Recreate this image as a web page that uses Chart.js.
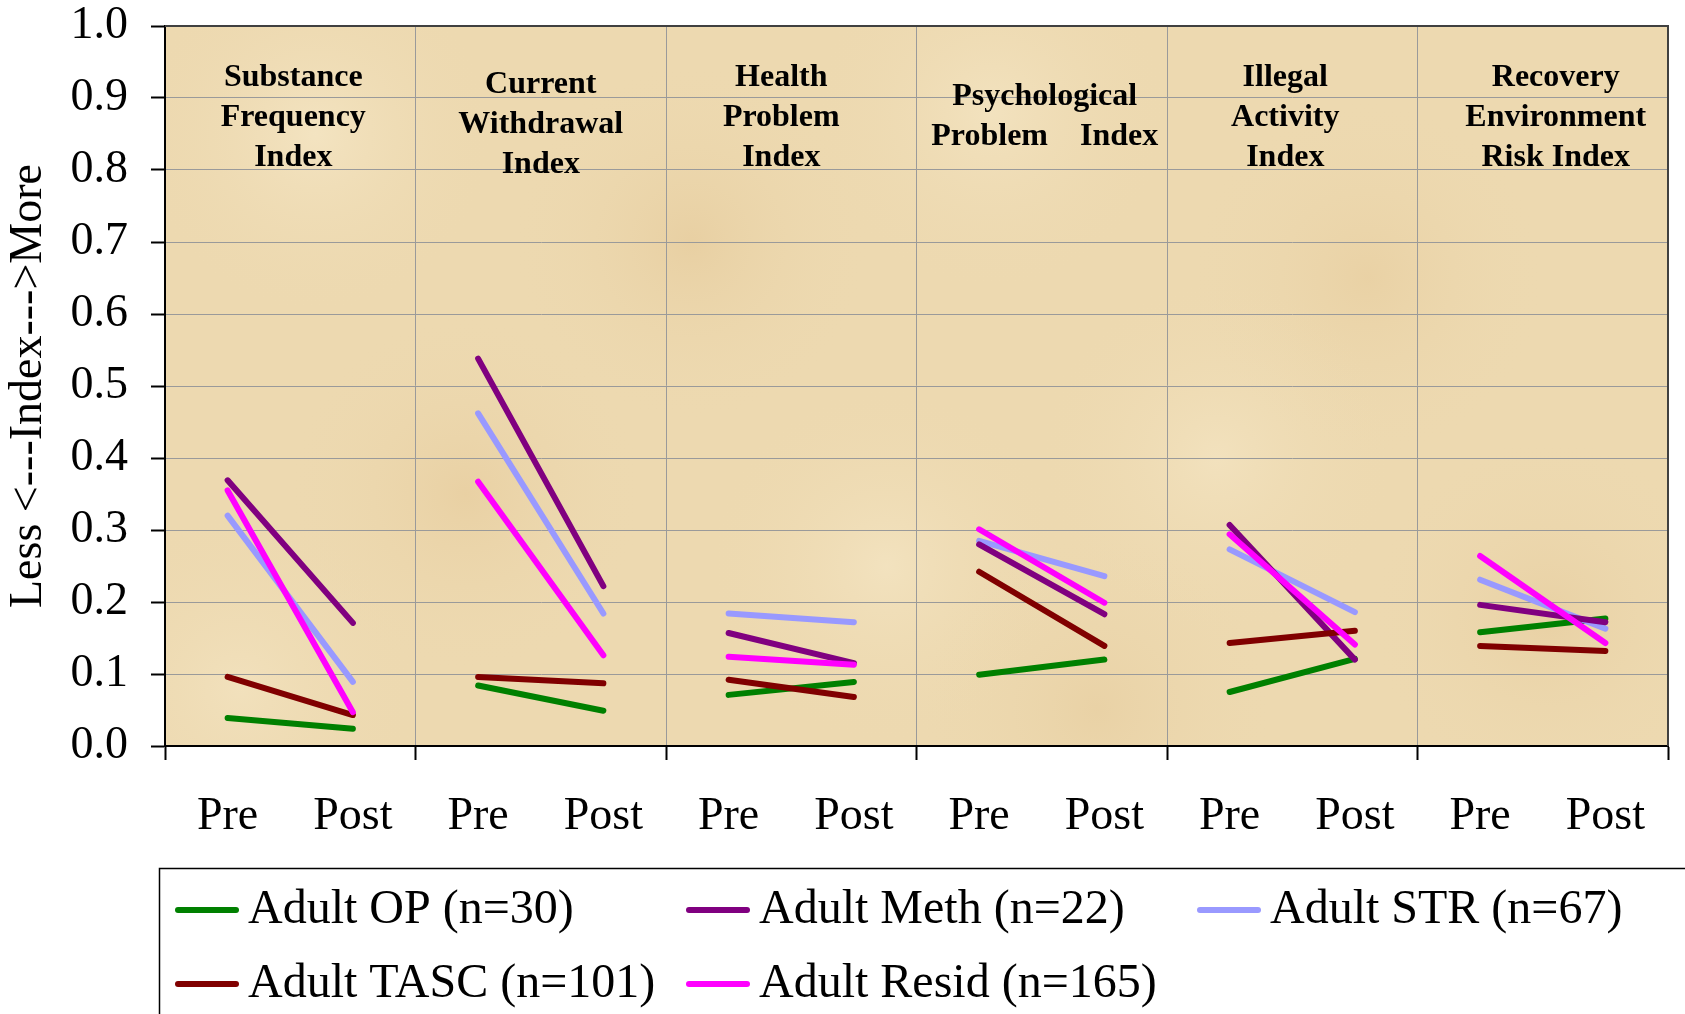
<!DOCTYPE html>
<html>
<head>
<meta charset="utf-8">
<script src="https://cdn.jsdelivr.net/npm/chart.js@4.4.1/dist/chart.umd.min.js"></script>
<style>
html,body{margin:0;padding:0;background:#fff;}
#caixa{width:1685px;height:1014px;position:relative;}
</style>
</head>
<body>
<div id="caixa"><canvas id="grafIndices"></canvas></div>
<script>
(function(){

// DADOS
const momentos = ["Pre","Post","Pre","Post","Pre","Post","Pre","Post","Pre","Post","Pre","Post"];
const titulosIndices = [
  ["Substance","Frequency","Index"],
  ["Current","Withdrawal","Index"],
  ["Health","Problem","Index"],
  ["Psychological","Problem    Index"],
  ["Illegal","Activity","Index"],
  ["Recovery","Environment","Risk Index"]
];
const adultOP    = [0.039,0.024, 0.084,0.049, 0.071,0.089, 0.099,0.120, 0.075,0.121, 0.158,0.177];
const adultMeth  = [0.369,0.171, 0.538,0.222, 0.157,0.115, 0.280,0.183, 0.307,0.120, 0.196,0.172];
const adultSTR   = [0.320,0.089, 0.462,0.184, 0.184,0.172, 0.285,0.236, 0.273,0.186, 0.231,0.163];
const adultTASC  = [0.096,0.043, 0.096,0.087, 0.092,0.068, 0.242,0.139, 0.143,0.160, 0.139,0.132];
const adultResid = [0.355,0.047, 0.367,0.126, 0.124,0.113, 0.301,0.199, 0.294,0.141, 0.264,0.143];
const rotulosSeries = ["Adult OP (n=30)","Adult Meth (n=22)","Adult STR (n=67)","Adult TASC (n=101)","Adult Resid (n=165)"];

const FONTE = "'Liberation Serif','Times New Roman',serif";
const cores = ["#008000","#800080","#9999FF","#800000","#FF00FF"];

function serie(i, valores, ordem){
  return {
    label: rotulosSeries[i],
    data: valores,
    borderColor: cores[i],
    backgroundColor: cores[i],
    borderWidth: 6,
    borderCapStyle: "round",
    borderJoinStyle: "round",
    pointRadius: 0,
    tension: 0,
    fill: false,
    order: ordem,
    // esconde a ligacao Post -> Pre do indice seguinte
    segment: { borderColor: ctx => ctx.p0DataIndex % 2 === 1 ? "transparent" : undefined }
  };
}

// fundo tipo pergaminho
const fundo = {
  id: "fundo",
  beforeDraw(chart){
    const {ctx, chartArea:a} = chart;
    ctx.save();
    ctx.fillStyle = "#EDD9B0";
    ctx.fillRect(a.left, a.top, a.right-a.left, a.bottom-a.top);
    ctx.beginPath();
    ctx.rect(a.left, a.top, a.right-a.left, a.bottom-a.top);
    ctx.clip();
    const manchas = [
      [0.10,0.15,"rgba(246,232,200,0.7)"],[0.35,0.30,"rgba(226,196,146,0.45)"],
      [0.55,0.12,"rgba(246,232,200,0.6)"],[0.80,0.35,"rgba(228,198,148,0.4)"],
      [0.20,0.65,"rgba(228,198,148,0.45)"],[0.48,0.75,"rgba(246,232,200,0.6)"],
      [0.70,0.60,"rgba(246,232,200,0.55)"],[0.92,0.82,"rgba(226,196,146,0.4)"],
      [0.05,0.92,"rgba(246,232,200,0.5)"],[0.62,0.95,"rgba(226,196,146,0.35)"]
    ];
    const w = a.right-a.left, h = a.bottom-a.top;
    manchas.forEach(m=>{
      const x = a.left+m[0]*w, y = a.top+m[1]*h, r = 180;
      const g = ctx.createRadialGradient(x,y,0,x,y,r);
      g.addColorStop(0,m[2]);
      g.addColorStop(1,"rgba(237,217,176,0)");
      ctx.fillStyle = g;
      ctx.fillRect(x-r,y-r,2*r,2*r);
    });
    ctx.restore();
  }
};

// titulos dos indices, borda e legenda
const extras = {
  id: "extras",
  afterDatasetsDraw(chart){
    const {ctx, chartArea:a, scales} = chart;
    const topo = [52,59,52,71,52,52];
    const desloc = [3,0,-10,3,-7,13];
    ctx.save();
    ctx.fillStyle = "#000";
    ctx.font = "bold 32px " + FONTE;
    ctx.textAlign = "center";
    ctx.textBaseline = "middle";
    titulosIndices.forEach((linhas,g)=>{
      const x = (scales.x.getPixelForValue(2*g) + scales.x.getPixelForValue(2*g+1))/2 + desloc[g];
      linhas.forEach((t,k)=> ctx.fillText(t, x, a.top + topo[g] + k*40));
    });
    // borda superior e direita
    ctx.strokeStyle = "#404040";
    ctx.lineWidth = 2;
    ctx.beginPath();
    ctx.moveTo(a.left, a.top);
    ctx.lineTo(a.right, a.top);
    ctx.lineTo(a.right, a.bottom);
    ctx.stroke();
    ctx.restore();
  },
  afterDraw(chart){
    const ctx = chart.ctx;
    ctx.save();
    ctx.strokeStyle = "#000";
    ctx.lineWidth = 1.5;
    ctx.strokeRect(159.5, 868.5, 1600, 300);
    ctx.font = "48px " + FONTE;
    ctx.textAlign = "left";
    ctx.textBaseline = "middle";
    chart.data.datasets.forEach((d,i)=>{
      const col = i % 3, lin = Math.floor(i/3);
      const x = 175 + col*511, y = 910 + lin*74;
      ctx.strokeStyle = d.borderColor;
      ctx.lineWidth = 6;
      ctx.lineCap = "round";
      ctx.beginPath();
      ctx.moveTo(x+3, y);
      ctx.lineTo(x+61, y);
      ctx.stroke();
      ctx.fillStyle = "#000";
      ctx.fillText(d.label, x+73, y);
    });
    ctx.restore();
  }
};

new Chart(document.getElementById("grafIndices"),{
  type: "line",
  data: {
    labels: momentos,
    datasets: [
      serie(0, adultOP, 4),
      serie(1, adultMeth, 2),
      serie(2, adultSTR, 3),
      serie(3, adultTASC, 1),
      serie(4, adultResid, 0)
    ]
  },
  options: {
    responsive: true,
    maintainAspectRatio: false,
    animation: false,
    layout: { padding: { top: 26, right: 17, bottom: 0, left: 0 } },
    plugins: { legend: { display: false }, tooltip: { enabled: false } },
    scales: {
      x: {
        type: "category",
        offset: true,
        afterFit: s => { s.height = 268; s.paddingLeft = 0; s.paddingRight = 0; },
        grid: {
          offset: true,
          color: c => (c.index !== undefined && c.index % 2 === 0 && c.index > 0) ? "#9A9A9A" : "transparent",
          lineWidth: 1,
          tickLength: 14,
          tickWidth: 2,
          tickColor: c => (c.index === undefined || c.index % 2 === 0) ? "#000" : "transparent"
        },
        border: { color: "#000", width: 2 },
        ticks: {
          color: "#000",
          font: { family: FONTE, size: 46, lineHeight: 1 },
          padding: 34,
          maxRotation: 0,
          autoSkip: false
        }
      },
      y: {
        min: 0,
        max: 1,
        afterFit: s => { s.width = 165; s.paddingTop = 0; s.paddingBottom = 0; },
        grid: { color: "#9A9A9A", lineWidth: 1, tickLength: 14, tickWidth: 2, tickColor: "#000" },
        border: { color: "#000", width: 2 },
        ticks: {
          stepSize: 0.1,
          color: "#000",
          font: { family: FONTE, size: 46, lineHeight: 1 },
          padding: 23,
          callback: v => Number(v).toFixed(1)
        },
        title: {
          display: true,
          text: "Less <---Index--->More",
          color: "#000",
          font: { family: FONTE, size: 46, lineHeight: 1 },
          padding: { top: 6, bottom: 0 }
        }
      }
    }
  },
  plugins: [fundo, extras]
});

})();
</script>
</body>
</html>
